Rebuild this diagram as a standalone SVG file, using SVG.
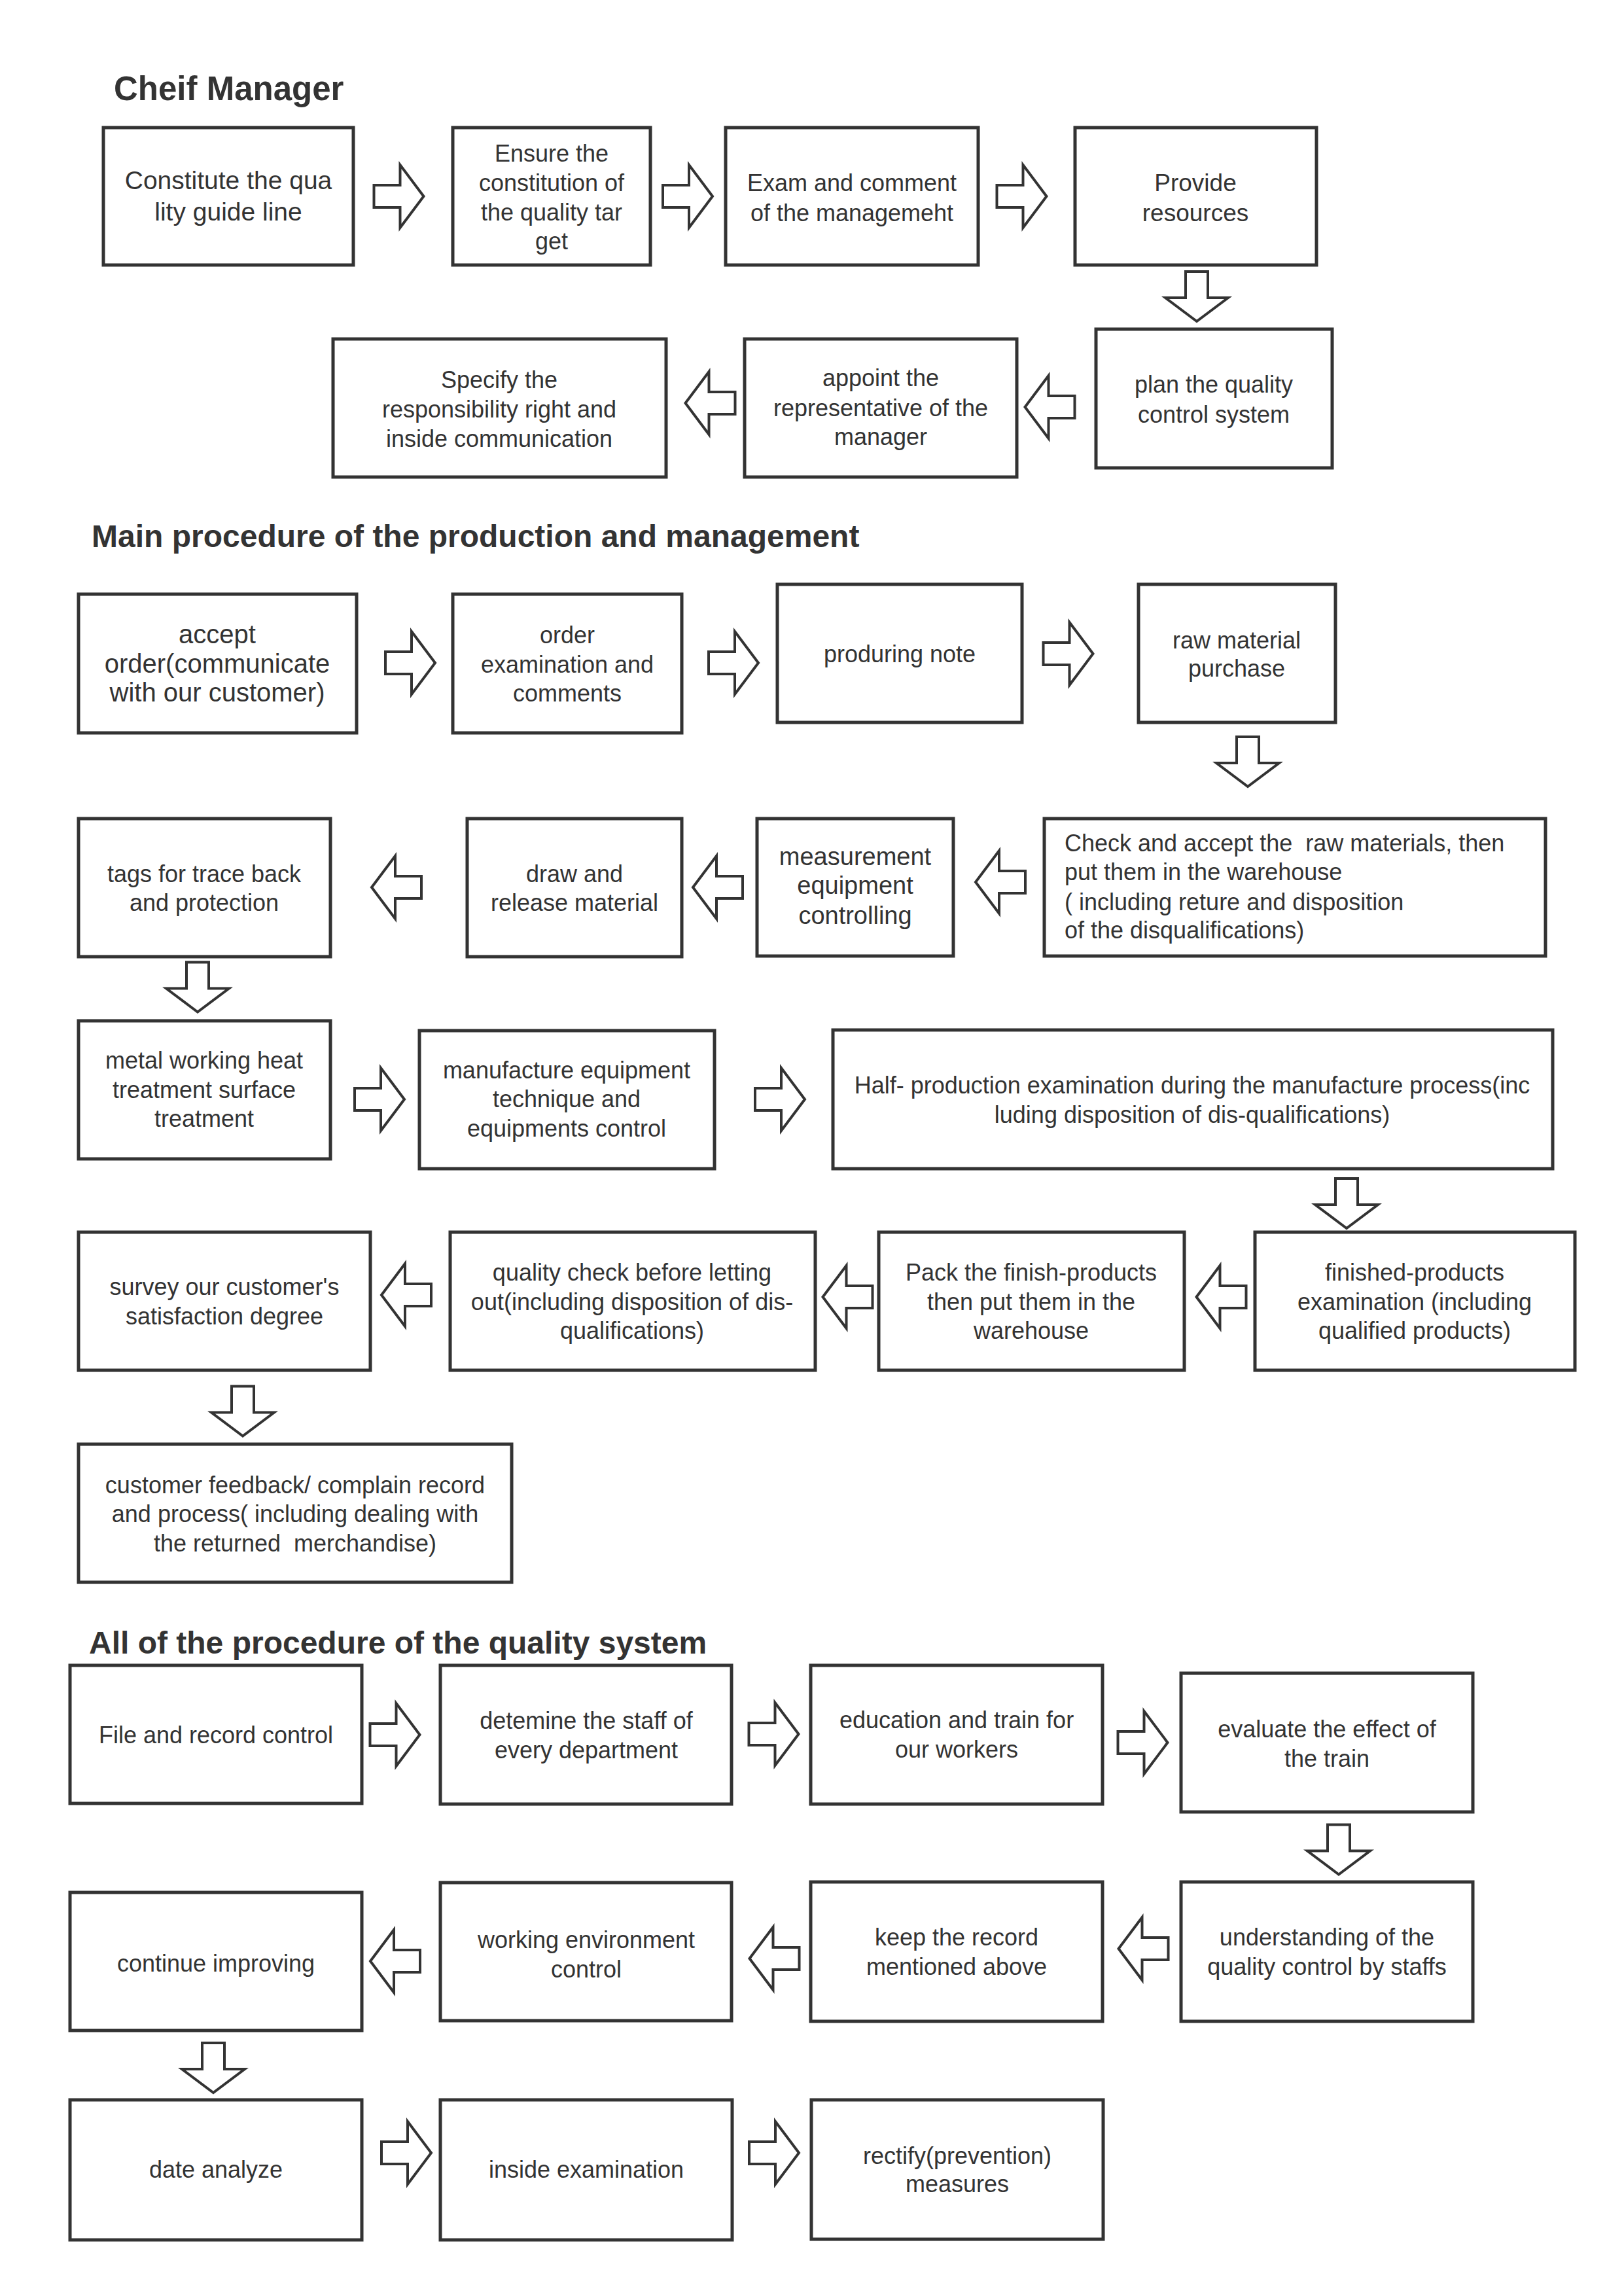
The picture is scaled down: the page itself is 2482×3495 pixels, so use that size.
<svg xmlns="http://www.w3.org/2000/svg" width="2482" height="3495" viewBox="0 0 2482 3495">
<defs>
<style>
.box{fill:#fff;stroke:#333;stroke-width:5}
.t{font-family:"Liberation Sans",Arial,sans-serif;font-size:36px;fill:#333;text-anchor:middle}
.l{font-family:"Liberation Sans",Arial,sans-serif;font-size:36px;fill:#333;white-space:pre}
.h{font-family:"Liberation Sans",Arial,sans-serif;font-size:48px;font-weight:bold;fill:#333}
.arr{fill:#fff;stroke:#333;stroke-width:4}
</style>
<path id="ar" d="M-38,-17H2V-48L38,0L2,48V17H-38Z"/>
</defs>
<rect width="2482" height="3495" fill="#fff"/>

<g id="titles">
<text class="h" x="174" y="153" style="font-size:51px">Cheif Manager</text>
<text class="h" x="140" y="836">Main procedure of the production and management</text>
<text class="h" x="136" y="2527">All of the procedure of the quality system</text>
</g>

<g id="connectors">
<use href="#ar" class="arr" transform="translate(609.5,300)"/>
<use href="#ar" class="arr" transform="translate(1051,300)"/>
<use href="#ar" class="arr" transform="translate(1561.5,300)"/>
<use href="#ar" class="arr" transform="translate(1829,453) rotate(90)"/>
<use href="#ar" class="arr" transform="translate(1604.5,622) scale(-1,1)"/>
<use href="#ar" class="arr" transform="translate(1085.5,616) scale(-1,1)"/>

<use href="#ar" class="arr" transform="translate(627,1013)"/>
<use href="#ar" class="arr" transform="translate(1121,1013)"/>
<use href="#ar" class="arr" transform="translate(1632.5,999)"/>
<use href="#ar" class="arr" transform="translate(1907,1164) rotate(90)"/>
<use href="#ar" class="arr" transform="translate(1529,1348) scale(-1,1)"/>
<use href="#ar" class="arr" transform="translate(1097,1356) scale(-1,1)"/>
<use href="#ar" class="arr" transform="translate(606,1356) scale(-1,1)"/>
<use href="#ar" class="arr" transform="translate(302,1508.5) rotate(90)"/>
<use href="#ar" class="arr" transform="translate(580,1680)"/>
<use href="#ar" class="arr" transform="translate(1192,1680)"/>
<use href="#ar" class="arr" transform="translate(2058,1839) rotate(90)"/>
<use href="#ar" class="arr" transform="translate(1866.5,1982) scale(-1,1)"/>
<use href="#ar" class="arr" transform="translate(1295.5,1982) scale(-1,1)"/>
<use href="#ar" class="arr" transform="translate(621,1979) scale(-1,1)"/>
<use href="#ar" class="arr" transform="translate(371,2156.5) rotate(90)"/>

<use href="#ar" class="arr" transform="translate(603.5,2651)"/>
<use href="#ar" class="arr" transform="translate(1182.5,2650)"/>
<use href="#ar" class="arr" transform="translate(1746.5,2663)"/>
<use href="#ar" class="arr" transform="translate(2046,2826.5) rotate(90)"/>
<use href="#ar" class="arr" transform="translate(1747.5,2978) scale(-1,1)"/>
<use href="#ar" class="arr" transform="translate(1183.5,2993) scale(-1,1)"/>
<use href="#ar" class="arr" transform="translate(604,2997) scale(-1,1)"/>
<use href="#ar" class="arr" transform="translate(326,3160) rotate(90)"/>
<use href="#ar" class="arr" transform="translate(621,3290)"/>
<use href="#ar" class="arr" transform="translate(1183,3290)"/>
</g>

<g id="n1"><rect class="box" x="158" y="195" width="382" height="210"/>
<text class="t" x="349" y="289" style="font-size:39px">Constitute the qua</text><text class="t" x="349" y="337" style="font-size:39px">lity guide line</text></g>
<g id="n2"><rect class="box" x="692" y="195" width="302" height="210"/>
<text class="t" x="843" y="247">Ensure the</text><text class="t" x="843" y="292">constitution of</text><text class="t" x="843" y="337">the quality tar</text><text class="t" x="843" y="381">get</text></g>
<g id="n3"><rect class="box" x="1109" y="195" width="386" height="210"/>
<text class="t" x="1302" y="292">Exam and comment</text><text class="t" x="1302" y="338">of the managemeht</text></g>
<g id="n4"><rect class="box" x="1643" y="195" width="369" height="210"/>
<text class="t" x="1827" y="292" style="font-size:37px">Provide</text><text class="t" x="1827" y="338" style="font-size:37px">resources</text></g>
<g id="n5"><rect class="box" x="1675" y="503" width="361" height="212"/>
<text class="t" x="1855" y="600">plan the quality</text><text class="t" x="1855" y="646">control system</text></g>
<g id="n6"><rect class="box" x="1138" y="518" width="416" height="211"/>
<text class="t" x="1346" y="590">appoint the</text><text class="t" x="1346" y="636">representative of the</text><text class="t" x="1346" y="680">manager</text></g>
<g id="n7"><rect class="box" x="509" y="518" width="509" height="211"/>
<text class="t" x="763" y="593">Specify the</text><text class="t" x="763" y="638">responsibility right and</text><text class="t" x="763" y="683">inside communication</text></g>

<g id="n8"><rect class="box" x="120" y="908" width="425" height="212"/>
<text class="t" x="332" y="983" style="font-size:40px">accept</text><text class="t" x="332" y="1028" style="font-size:40px">order(communicate</text><text class="t" x="332" y="1072" style="font-size:40px">with our customer)</text></g>
<g id="n9"><rect class="box" x="692" y="908" width="350" height="212"/>
<text class="t" x="867" y="983">order</text><text class="t" x="867" y="1028">examination and</text><text class="t" x="867" y="1072">comments</text></g>
<g id="n10"><rect class="box" x="1188" y="893" width="374" height="211"/>
<text class="t" x="1375" y="1012">produring note</text></g>
<g id="n11"><rect class="box" x="1740" y="893" width="301" height="211"/>
<text class="t" x="1890" y="991">raw material</text><text class="t" x="1890" y="1034">purchase</text></g>
<g id="n12"><rect class="box" x="1596" y="1251" width="766" height="210"/>
<text class="l" x="1627" y="1301">Check and accept the  raw materials, then</text><text class="l" x="1627" y="1345">put them in the warehouse</text><text class="l" x="1627" y="1391">( including reture and disposition</text><text class="l" x="1627" y="1434">of the disqualifications)</text></g>
<g id="n13"><rect class="box" x="1157" y="1251" width="300" height="210"/>
<text class="t" x="1307" y="1322" style="font-size:38px">measurement</text><text class="t" x="1307" y="1366" style="font-size:38px">equipment</text><text class="t" x="1307" y="1412" style="font-size:38px">controlling</text></g>
<g id="n14"><rect class="box" x="714" y="1251" width="328" height="211"/>
<text class="t" x="878" y="1348">draw and</text><text class="t" x="878" y="1392">release material</text></g>
<g id="n15"><rect class="box" x="120" y="1251" width="385" height="211"/>
<text class="t" x="312" y="1348">tags for trace back</text><text class="t" x="312" y="1392">and protection</text></g>
<g id="n16"><rect class="box" x="120" y="1560" width="385" height="211"/>
<text class="t" x="312" y="1633">metal working heat</text><text class="t" x="312" y="1678">treatment surface</text><text class="t" x="312" y="1722">treatment</text></g>
<g id="n17"><rect class="box" x="641" y="1575" width="451" height="211"/>
<text class="t" x="866" y="1648">manufacture equipment</text><text class="t" x="866" y="1692">technique and</text><text class="t" x="866" y="1737">equipments control</text></g>
<g id="n18"><rect class="box" x="1273" y="1574" width="1100" height="212"/>
<text class="t" x="1822" y="1671">Half- production examination during the manufacture process(inc</text><text class="t" x="1822" y="1716">luding disposition of dis-qualifications)</text></g>
<g id="n19"><rect class="box" x="1918" y="1883" width="489" height="211"/>
<text class="t" x="2162" y="1957">finished-products</text><text class="t" x="2162" y="2002">examination (including</text><text class="t" x="2162" y="2046">qualified products)</text></g>
<g id="n20"><rect class="box" x="1343" y="1883" width="467" height="211"/>
<text class="t" x="1576" y="1957">Pack the finish-products</text><text class="t" x="1576" y="2002">then put them in the</text><text class="t" x="1576" y="2046">warehouse</text></g>
<g id="n21"><rect class="box" x="688" y="1883" width="558" height="211"/>
<text class="t" x="966" y="1957">quality check before letting</text><text class="t" x="966" y="2002">out(including disposition of dis-</text><text class="t" x="966" y="2046">qualifications)</text></g>
<g id="n22"><rect class="box" x="120" y="1883" width="446" height="211"/>
<text class="t" x="343" y="1979">survey our customer's</text><text class="t" x="343" y="2024">satisfaction degree</text></g>
<g id="n23"><rect class="box" x="120" y="2207" width="662" height="211"/>
<text class="t" x="451" y="2282">customer feedback/ complain record</text><text class="t" x="451" y="2326">and process( including dealing with</text><text class="t" x="451" y="2371" style="white-space:pre">the returned  merchandise)</text></g>

<g id="n24"><rect class="box" x="107" y="2545" width="446" height="211"/>
<text class="t" x="330" y="2664">File and record control</text></g>
<g id="n25"><rect class="box" x="673" y="2545" width="445" height="212"/>
<text class="t" x="896" y="2642">detemine the staff of</text><text class="t" x="896" y="2687">every department</text></g>
<g id="n26"><rect class="box" x="1239" y="2545" width="446" height="212"/>
<text class="t" x="1462" y="2641">education and train for</text><text class="t" x="1462" y="2686">our workers</text></g>
<g id="n27"><rect class="box" x="1805" y="2557" width="446" height="212"/>
<text class="t" x="2028" y="2655">evaluate the effect of</text><text class="t" x="2028" y="2700">the train</text></g>
<g id="n28"><rect class="box" x="1805" y="2876" width="446" height="213"/>
<text class="t" x="2028" y="2973">understanding of the</text><text class="t" x="2028" y="3018">quality control by staffs</text></g>
<g id="n29"><rect class="box" x="1239" y="2876" width="446" height="213"/>
<text class="t" x="1462" y="2973">keep the record</text><text class="t" x="1462" y="3018">mentioned above</text></g>
<g id="n30"><rect class="box" x="673" y="2877" width="445" height="211"/>
<text class="t" x="896" y="2977">working environment</text><text class="t" x="896" y="3022">control</text></g>
<g id="n31"><rect class="box" x="107" y="2892" width="446" height="211"/>
<text class="t" x="330" y="3013">continue improving</text></g>
<g id="n32"><rect class="box" x="107" y="3209" width="446" height="214"/>
<text class="t" x="330" y="3328">date analyze</text></g>
<g id="n33"><rect class="box" x="673" y="3209" width="446" height="214"/>
<text class="t" x="896" y="3328">inside examination</text></g>
<g id="n34"><rect class="box" x="1240" y="3209" width="446" height="213"/>
<text class="t" x="1463" y="3307">rectify(prevention)</text><text class="t" x="1463" y="3350">measures</text></g>
</svg>
